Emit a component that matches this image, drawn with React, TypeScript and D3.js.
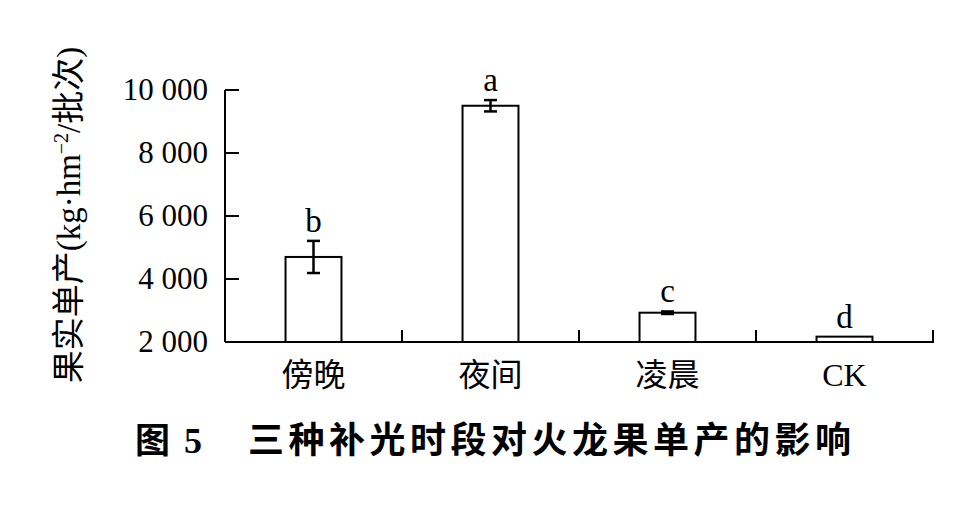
import React from "react";
import * as d3 from "d3";

const categories = ["傍晚", "夜间", "凌晨", "CK"];
const yields = [4700, 9500, 2930, 2170];
const errors = [510, 180, 40, 0];
const letters = ["b", "a", "c", "d"];
const yTicks = [2000, 4000, 6000, 8000, 10000];

const W = 976;
const H = 518;
const serif = "'Liberation Serif', 'Times New Roman', 'Noto Sans CJK SC', serif";
const cjk = "'Liberation Serif', 'Noto Sans CJK SC', serif";

export default function App() {
  const x0 = 225, x1 = 933, yTop = 90, yBase = 342;
  const x = d3.scaleBand<string>().domain(categories).range([x0, x1]).paddingInner(0.684).paddingOuter(0.342);
  const y = d3.scaleLinear().domain([2000, 10000]).range([yBase, yTop]);
  const band = (x1 - x0) / categories.length;
  const fmt = (v: number) => d3.format(",")(v).replace(/,/g, " ");
  return (
    <svg width={W} height={H} style={{ position: "absolute", left: 0, top: 0, background: "#fff" }}>
      {/* bars */}
      {categories.map((c, i) => {
        const bx = x(c)!;
        const cx = bx + x.bandwidth() / 2;
        const top = y(yields[i]);
        const eTop = y(yields[i] + errors[i]);
        const eBot = y(yields[i] - errors[i]);
        return (
          <g key={c}>
            <rect x={bx} y={top} width={x.bandwidth()} height={yBase - top} fill="#fff" stroke="#000" strokeWidth={2} />
            {errors[i] > 0 && (
              <g stroke="#000" strokeWidth={2.5}>
                <line x1={cx} x2={cx} y1={eTop} y2={eBot} />
                <line x1={cx - 6.5} x2={cx + 6.5} y1={eTop} y2={eTop} />
                <line x1={cx - 6.5} x2={cx + 6.5} y1={eBot} y2={eBot} />
              </g>
            )}
            <text x={cx} y={Math.min(eTop, top) - 9} textAnchor="middle" fontFamily={serif} fontSize={33}>
              {letters[i]}
            </text>
            <text x={cx} y={386} textAnchor="middle" fontFamily={cjk} fontSize={32}>
              {c}
            </text>
          </g>
        );
      })}
      {/* axes */}
      <line x1={x0} x2={x0} y1={yTop} y2={yBase} stroke="#000" strokeWidth={2} />
      <line x1={x0} x2={x1 + 1} y1={yBase} y2={yBase} stroke="#000" strokeWidth={2} />
      {yTicks.map((t) => (
        <g key={t}>
          <line x1={x0} x2={x0 + 14} y1={y(t)} y2={y(t)} stroke="#000" strokeWidth={2} />
          <text x={208} y={y(t) + 10} textAnchor="end" fontFamily={serif} fontSize={31}>
            {fmt(t)}
          </text>
        </g>
      ))}
      {categories.map((c, i) => (
        <line key={c} x1={x0 + band * (i + 1)} x2={x0 + band * (i + 1)} y1={yBase} y2={yBase - 12} stroke="#000" strokeWidth={2} />
      ))}
      {/* y label */}
      <text transform="translate(80,215) rotate(-90)" textAnchor="middle" fontFamily={cjk} fontSize={33}>
        果实单产(kg·hm<tspan dy={-12} fontSize={20}>−2</tspan><tspan dy={12}>/批次)</tspan>
      </text>
      {/* title */}
      <text x={135} y={453} fontFamily="'Noto Sans CJK SC', sans-serif" fontWeight="bold" fontSize={35}>
        图
      </text>
      <text x={184} y={453} fontFamily={serif} fontWeight="bold" fontSize={36}>
        5
      </text>
      <text x={248} y={453} fontFamily="'Noto Sans CJK SC', sans-serif" fontWeight="bold" fontSize={36} letterSpacing={4.5}>
        三种补光时段对火龙果单产的影响
      </text>
    </svg>
  );
}
